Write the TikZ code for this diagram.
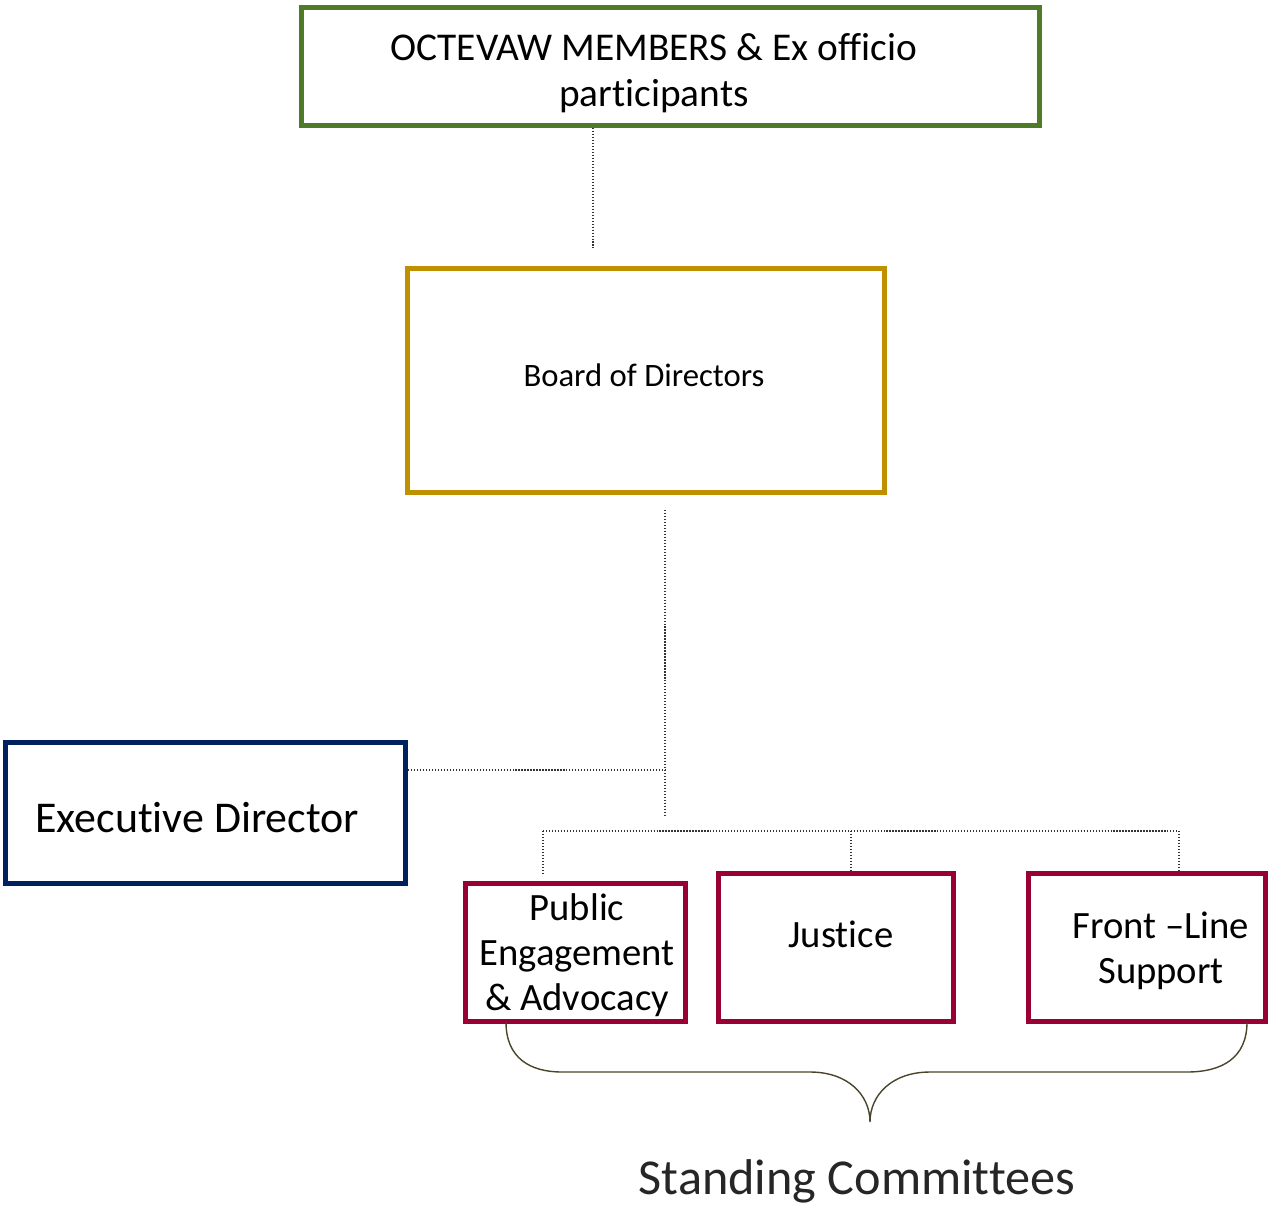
\documentclass[tikz,border=0pt]{standalone}
\usepackage{fontspec}
\setmainfont{Carlito}[Ligatures=NoCommon]
\usetikzlibrary{calc}

\definecolor{octgreen}{HTML}{4F7A28}
\definecolor{boardgold}{HTML}{BF9000}
\definecolor{execnavy}{HTML}{002060}
\definecolor{commred}{HTML}{990033}
\definecolor{braceol}{HTML}{4A452A}

\begin{document}
\begin{tikzpicture}[x=0.02cm,y=-0.02cm,
    box/.style={draw=#1, line width=0.1cm, inner sep=0pt},
    link/.style={draw=black!80, line width=0.7pt, densely dotted},
    txt/.style 2 args={inner sep=0pt, align=center, font=\fontsize{#1}{#2}\selectfont}]
        \useasboundingbox (0,0) rectangle (1268,1207);
        % boxes
        \node[box=octgreen, minimum width=14.76cm, minimum height=2.36cm] (oct) at (670.5,66.5) {};
        \node[box=boardgold, minimum width=9.54cm, minimum height=4.48cm] (board) at (646,380.5) {};
        \node[box=execnavy, minimum width=8cm, minimum height=2.82cm] (exec) at (205.5,813) {};
        \node[box=commred, minimum width=4.4cm, minimum height=2.76cm] (pub) at (575.5,952.5) {};
        \node[box=commred, minimum width=4.7cm, minimum height=2.96cm] (just) at (836,947.5) {};
        \node[box=commred, minimum width=4.74cm, minimum height=2.96cm] (front) at (1147,947.5) {};
        % texts
        \node[txt={22.4pt}{26pt}] (octtxt) at (654,73) {OCTEVAW MEMBERS \& Ex officio\\participants};
        \node[txt={18.6pt}{22pt}] (boardtxt) at (644,375) {Board of Directors};
        \node[txt={25pt}{29pt}, anchor=west] (exectxt) at (35,818) {Executive Director};
        \node[txt={22pt}{25.6pt}] (pubtxt) at (577,955) {Public\\Engagement\\\& Advocacy};
        \node[txt={22pt}{26pt}] (justtxt) at (841,934) {Justice};
        \node[txt={22pt}{25.6pt}] (fronttxt) at (1161,951) {Front –Line\\Support};
        \node[txt={28.6pt}{33pt}, text=black!85] (standtxt) at (857,1181) {Standing Committees};
        % connectors
        \coordinate (o1) at (593,248);
        \coordinate (b1) at (665,510);
        \coordinate (b2) at (665,817);
        \coordinate (e1) at (665,770);
        \coordinate (c1) at (543,831);
        \coordinate (c2) at (851,831);
        \coordinate (c3) at (1179,831);
        \coordinate (c4) at (543,873);
        \draw[link] (oct.south -| o1) -- (o1);
        \draw[link] (b1) -- (b2);
        \draw[link] (exec.east |- e1) -- (e1);
        \draw[link] (c1) -- (c3);
        \draw[link] (c1) -- (c4);
        \draw[link] (c2) -- (just.north -| c2);
        \draw[link] (c3) -- (front.north -| c3);
        % brace under the committees
        \draw[braceol, line width=0.8pt]
            (506,1022) .. controls (506,1058) and (530,1072) .. (562,1072)
            -- (810,1072) .. controls (848,1072) and (870,1095) .. (870,1122)
            .. controls (870,1095) and (892,1072) .. (930,1072)
            -- (1187,1072) .. controls (1222,1072) and (1247,1058) .. (1247,1022);
  \end{tikzpicture}
\end{document}
